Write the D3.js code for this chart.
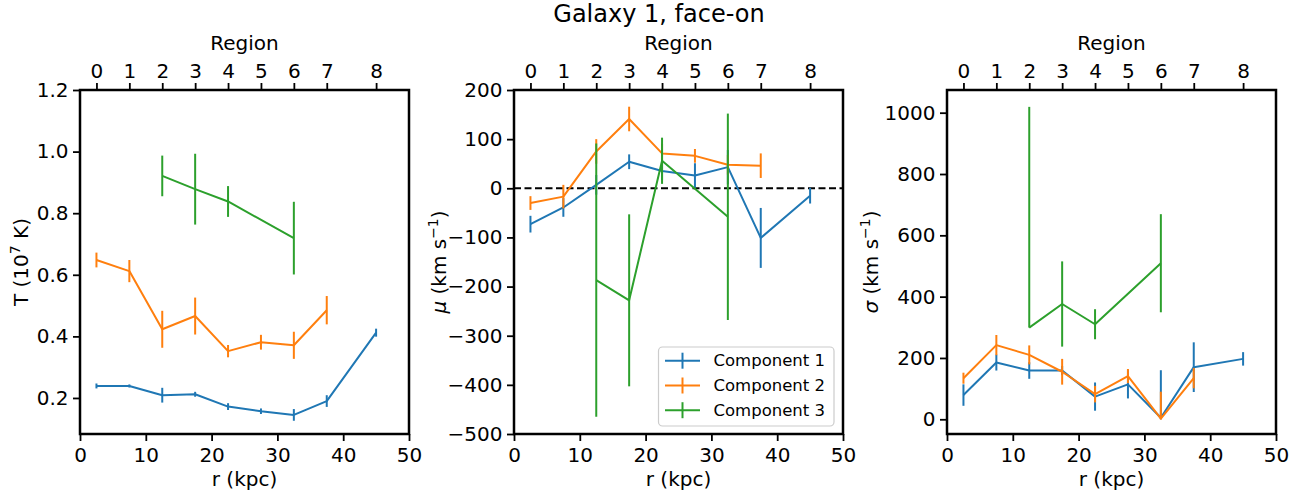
<!DOCTYPE html>
<html>
<head>
<meta charset="utf-8">
<script src="https://cdn.jsdelivr.net/npm/d3@7"></script>
<style>
  html, body { margin: 0; padding: 0; background: #fff; }
  svg { display: block; font-family: "DejaVu Sans", sans-serif; }
</style>
</head>
<body>
<svg id="chart" width="1310" height="493"></svg>
<script>
// ---------------- data ----------------
const regionR = [2.5, 7.5, 12.5, 17.5, 22.5, 27.5, 32.5, 37.5, 45];
const regionLabels = ["0", "1", "2", "3", "4", "5", "6", "7", "8"];
const xTicks = [0, 10, 20, 30, 40, 50];

const rComp1 = [2.5, 7.5, 12.5, 17.5, 22.5, 27.5, 32.5, 37.5, 45];
const rComp2 = [2.5, 7.5, 12.5, 17.5, 22.5, 27.5, 32.5, 37.5];
const rComp3 = [12.5, 17.5, 22.5, 32.5];

const seriesNames = ["Component 1", "Component 2", "Component 3"];
const seriesColors = ["#1f77b4", "#ff7f0e", "#2ca02c"];

// Temperature (1e7 K)
const T_c1 = [0.239, 0.239, 0.209, 0.212, 0.172, 0.157, 0.145, 0.190, 0.412];
const T_c1err = [0.008, 0.005, 0.024, 0.008, 0.011, 0.009, 0.019, 0.019, 0.013];
const T_c2 = [0.648, 0.612, 0.423, 0.466, 0.352, 0.381, 0.371, 0.485];
const T_c2err = [0.024, 0.036, 0.060, 0.060, 0.020, 0.024, 0.044, 0.046];
const T_c3 = [0.921, 0.878, 0.838, 0.719];
const T_c3err = [0.066, 0.115, 0.050, 0.118];
const T_ticks = [0.2, 0.4, 0.6, 0.8, 1.0, 1.2];

// Mean velocity mu (km/s)
const mu_c1 = [-73, -39, 7, 54, 35, 26, 43, -101, -15];
const mu_c1err = [17, 19, 20, 15, 18, 25, 35, 61, 16];
const mu_c2 = [-30, -17, 75, 141, 71, 66, 48, 46];
const mu_c2err = [14, 24, 25, 25, 20, 14, 20, 25];
const mu_c3 = [-187, -228, 56, -58];
const mu_c3err = [278, 175, 47, 210];
const mu_ticks = [-500, -400, -300, -200, -100, 0, 100, 200];

// Velocity dispersion sigma (km/s)
const sig_c1 = [79, 185, 159, 159, 74, 114, 5, 170, 197];
const sig_c1errLo = [35, 26, 27, 15, 46, 46, 5, 81, 22];
const sig_c1errHi = [35, 26, 27, 15, 46, 46, 155, 81, 22];
const sig_c2 = [134, 242, 210, 155, 82, 141, 2, 134];
const sig_c2errLo = [18, 33, 31, 42, 27, 23, 2, 33];
const sig_c2errHi = [18, 33, 31, 42, 27, 23, 88, 33];
const sig_c3 = [299, 376, 310, 509];
const sig_c3errLo = [0, 139, 49, 160];
const sig_c3errHi = [720, 139, 49, 160];
const sig_ticks = [0, 200, 400, 600, 800, 1000];

// ---------------- layout ----------------
const svg = d3.select("#chart");
const Y0 = 90, Y1 = 434;
const FONT = 20;

svg.append("text")
  .attr("x", 659).attr("y", 22)
  .attr("text-anchor", "middle")
  .attr("font-size", 24)
  .text("Galaxy 1, face-on");

function mkSeries(r, v, lo, hi) {
  return r.map((d, i) => ({ r: d, v: v[i], lo: v[i] - lo[i], hi: v[i] + hi[i] }));
}

const panels = [
  {
    x0: 80, x1: 409, yDomain: [0.083, 1.2], yTicks: T_ticks, fmt: d3.format(".1f"),
    series: [mkSeries(rComp1, T_c1, T_c1err, T_c1err), mkSeries(rComp2, T_c2, T_c2err, T_c2err), mkSeries(rComp3, T_c3, T_c3err, T_c3err)],
    ylabelX: 27.5, ylabel: (t) => { t.append("tspan").text("T (10"); t.append("tspan").attr("dy", -8).attr("font-size", 14).text("7"); t.append("tspan").attr("dy", 8).text(" K)"); }
  },
  {
    x0: 514, x1: 843, yDomain: [-500, 200], yTicks: mu_ticks, fmt: d3.format("d"),
    series: [mkSeries(rComp1, mu_c1, mu_c1err, mu_c1err), mkSeries(rComp2, mu_c2, mu_c2err, mu_c2err), mkSeries(rComp3, mu_c3, mu_c3err, mu_c3err)],
    zeroLine: true, legend: true,
    ylabelX: 445.5, ylabel: (t) => { t.append("tspan").attr("font-style", "italic").text("μ"); t.append("tspan").text(" (km s"); t.append("tspan").attr("dy", -8).attr("font-size", 14).text("−1"); t.append("tspan").attr("dy", 8).text(")"); }
  },
  {
    x0: 947, x1: 1276, yDomain: [-48, 1074], yTicks: sig_ticks, fmt: d3.format("d"),
    series: [mkSeries(rComp1, sig_c1, sig_c1errLo, sig_c1errHi), mkSeries(rComp2, sig_c2, sig_c2errLo, sig_c2errHi), mkSeries(rComp3, sig_c3, sig_c3errLo, sig_c3errHi)],
    ylabelX: 877.5, ylabel: (t) => { t.append("tspan").attr("font-style", "italic").text("σ"); t.append("tspan").text(" (km s"); t.append("tspan").attr("dy", -8).attr("font-size", 14).text("−1"); t.append("tspan").attr("dy", 8).text(")"); }
  }
];

function styleAxis(g) {
  g.select(".domain").remove();
  g.selectAll(".tick line").attr("stroke", "#000").attr("stroke-width", 1.8);
  g.selectAll(".tick text").attr("font-size", FONT).attr("fill", "#000").attr("font-family", "DejaVu Sans");
}

panels.forEach((p, pi) => {
  const x = d3.scaleLinear().domain([0, 50]).range([p.x0, p.x1]);
  const y = d3.scaleLinear().domain(p.yDomain).range([Y1, Y0]);
  const g = svg.append("g");

  const clipId = "clip" + pi;
  svg.append("clipPath").attr("id", clipId)
    .append("rect").attr("x", p.x0).attr("y", Y0).attr("width", p.x1 - p.x0).attr("height", Y1 - Y0);

  const plot = g.append("g").attr("clip-path", `url(#${clipId})`);

  if (p.zeroLine) {
    plot.append("line")
      .attr("x1", p.x0).attr("x2", p.x1).attr("y1", y(0)).attr("y2", y(0))
      .attr("stroke", "#000").attr("stroke-width", 2).attr("stroke-dasharray", "7,3.5");
  }

  const line = d3.line().x(d => x(d.r)).y(d => y(d.v));
  p.series.forEach((s, si) => {
    const col = seriesColors[si];
    const sg = plot.append("g");
    sg.selectAll("line.err").data(s).join("line")
      .attr("class", "err")
      .attr("x1", d => x(d.r)).attr("x2", d => x(d.r))
      .attr("y1", d => y(d.lo)).attr("y2", d => y(d.hi))
      .attr("stroke", col).attr("stroke-width", 2);
    sg.append("path").datum(s)
      .attr("d", line).attr("fill", "none")
      .attr("stroke", col).attr("stroke-width", 2).attr("stroke-linejoin", "round");
  });

  // axes
  g.append("g").attr("transform", `translate(0,${Y1})`)
    .call(d3.axisBottom(x).tickValues(xTicks).tickFormat(d3.format("d")).tickSize(7).tickPadding(6.5).tickSizeOuter(0))
    .call(styleAxis);
  g.append("g").attr("transform", `translate(0,${Y0})`)
    .call(d3.axisTop(x).tickValues(regionR).tickFormat((d, i) => regionLabels[i]).tickSize(7).tickPadding(5.5).tickSizeOuter(0))
    .call(styleAxis);
  g.append("g").attr("transform", `translate(${p.x0},0)`)
    .call(d3.axisLeft(y).tickValues(p.yTicks).tickFormat(p.fmt).tickSize(7).tickPadding(4.5).tickSizeOuter(0))
    .call(styleAxis);

  // spines
  g.append("rect")
    .attr("x", p.x0).attr("y", Y0).attr("width", p.x1 - p.x0).attr("height", Y1 - Y0)
    .attr("fill", "none").attr("stroke", "#000").attr("stroke-width", 2.5);

  // labels
  const cx = (p.x0 + p.x1) / 2;
  svg.append("text").attr("x", cx).attr("y", 486).attr("text-anchor", "middle")
    .attr("font-size", FONT).text("r (kpc)");
  svg.append("text").attr("x", cx).attr("y", 50).attr("text-anchor", "middle")
    .attr("font-size", FONT).text("Region");
  const yl = svg.append("text")
    .attr("transform", `translate(${p.ylabelX},${(Y0 + Y1) / 2}) rotate(-90)`)
    .attr("text-anchor", "middle").attr("font-size", FONT);
  p.ylabel(yl);

  if (p.legend) {
    const lg = svg.append("g");
    lg.append("rect").attr("x", 658.5).attr("y", 347).attr("width", 175.5).attr("height", 79)
      .attr("rx", 4).attr("fill", "#fff").attr("fill-opacity", 0.8)
      .attr("stroke", "#cccccc").attr("stroke-width", 1.2);
    const rows = [360.7, 385.5, 410.2];
    seriesNames.forEach((n, i) => {
      const ry = rows[i];
      lg.append("line").attr("x1", 665).attr("x2", 700).attr("y1", ry).attr("y2", ry)
        .attr("stroke", seriesColors[i]).attr("stroke-width", 2);
      lg.append("line").attr("x1", 682.5).attr("x2", 682.5).attr("y1", ry - 8).attr("y2", ry + 8)
        .attr("stroke", seriesColors[i]).attr("stroke-width", 2);
      lg.append("text").attr("x", 713.5).attr("y", ry).attr("dy", "0.35em")
        .attr("font-size", 16.5).text(n);
    });
  }
});
</script>
</body>
</html>
